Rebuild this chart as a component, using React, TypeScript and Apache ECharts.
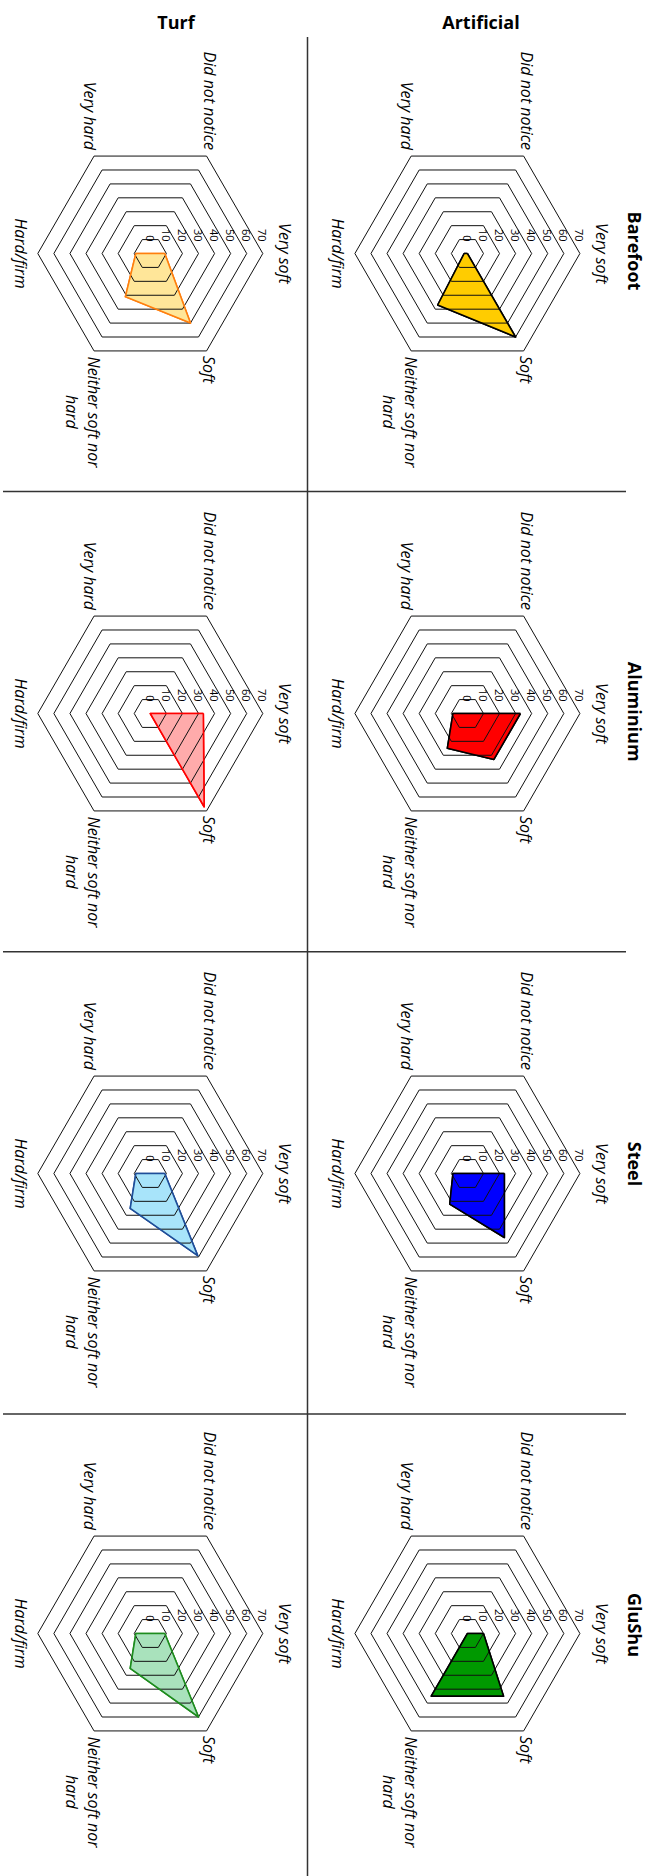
import React, { useEffect, useRef } from "react";
import * as echarts from "echarts";

// Response categories, in the order they run round each hexagon (clockwise from "Very soft")
const axisNames = ["Very soft", "Soft", "Neither soft nor\nhard", "Hard/firm", "Very hard", "Did not notice"];
const scaleMax = 70;
const scaleStep = 10;

const footwear = ["Barefoot", "Aluminium", "Steel", "GluShu"];
const surfaces = ["Artificial", "Turf"];

// Share of responses (%) per category, same order as axisNames
const artificialBarefoot = [0, 60, 37, 2, 0, 0];
const artificialAluminium = [33, 33, 25, 9, 0, 0];
const artificialSteel = [23, 46, 22, 9, 0, 0];
const artificialGluShu = [10, 45, 45, 0, 0, 0];

const turfBarefoot = [9, 50, 31, 9, 0, 0];
const turfAluminium = [33, 67, 0, 0, 0, 0];
const turfSteel = [9, 59, 25, 9, 0, 0];
const turfGluShu = [9, 60, 25, 9, 0, 0];

const artificialFill = ["#FFCC00", "#FF0000", "#0000FF", "#009900"];
const artificialStroke = ["#000000", "#000000", "#000000", "#000000"];
const turfFill = ["#FFE699", "#FFABAB", "#A8E4FA", "#A9E2BC"];
const turfStroke = ["#FF7F0E", "#FF0000", "#1F4E99", "#1E8C1E"];

const FONT = "'Open Sans', sans-serif";

// The figure is laid out landscape (footwear across, surfaces down) and turned a quarter
// turn clockwise onto the portrait page.
const LAND_W = 1876;
const LAND_H = 660;
const colCenters = [253.5, 713.5, 1173.5, 1633.5];
const rowCenters = [192.6, 509.7];
const titleCenters = [251, 711.7, 1164, 1625];
const headerCenters = [176, 481];
const R = 112.5;

// ECharts places indicators counter-clockwise; this reorders the clockwise categories.
const ccwOrder = [0, 5, 4, 3, 2, 1];

type Cell = { cx: number; cy: number; values: number[]; fill: string; stroke: string; name: string };

function buildCells(): Cell[] {
  const rows = [
    [artificialBarefoot, artificialAluminium, artificialSteel, artificialGluShu],
    [turfBarefoot, turfAluminium, turfSteel, turfGluShu],
  ];
  const cells: Cell[] = [];
  rows.forEach((vals, r) => {
    vals.forEach((v, c) => {
      cells.push({
        cx: colCenters[c],
        cy: rowCenters[r],
        values: v,
        fill: r === 0 ? artificialFill[c] : turfFill[c],
        stroke: r === 0 ? artificialStroke[c] : turfStroke[c],
        name: `${surfaces[r]} – ${footwear[c]}`,
      });
    });
  });
  return cells;
}

function nameLabels(cell: Cell): any[] {
  const { cx, cy } = cell;
  const dx = R * Math.cos(Math.PI / 6);
  const base = { fill: "#000", fontFamily: FONT, fontSize: 16, fontStyle: "italic" };
  const t = (text: string, x: number, y: number, align: string, verticalAlign: string, extra: any = {}) => ({
    type: "text",
    x,
    y,
    silent: true,
    style: { ...base, text, align, verticalAlign, ...extra },
  });
  return [
    t(axisNames[0], cx, cy - R - 22, "center", "middle"),
    t(axisNames[1], cx + dx + 5, cy - R / 2 - 2, "left", "middle"),
    t(axisNames[2], cx + dx + 4 + 57, cy + R / 2 - 11, "center", "top", { lineHeight: 22 }),
    t(axisNames[3], cx, cy + R + 17, "center", "middle"),
    t(axisNames[4], cx - dx - 6, cy + R / 2 + 4, "right", "middle"),
    t(axisNames[5], cx - dx - 6, cy - R / 2 - 3, "right", "middle"),
  ];
}

function buildOption() {
  const cells = buildCells();

  const radar = cells.map((c) => ({
    center: [c.cx, c.cy],
    radius: R,
    startAngle: 90,
    shape: "polygon",
    splitNumber: scaleMax / scaleStep,
    z: 3,
    indicator: ccwOrder.map((k, j) => ({
      name: axisNames[k],
      min: 0,
      max: scaleMax,
      axisLabel: { show: j === 0 },
    })),
    axisName: { show: false },
    axisLine: { show: false },
    axisTick: { show: false },
    splitArea: { show: false },
    splitLine: { show: true, lineStyle: { color: "#111", width: 1 } },
    axisLabel: { show: false, margin: 12, fontSize: 11, color: "#000", fontFamily: FONT },
  }));

  // Filled areas sit under the rings; the outlines are drawn again above them.
  const areaSeries = cells.map((c, i) => ({
    type: "radar",
    name: c.name,
    radarIndex: i,
    z: 2,
    silent: true,
    symbol: "none",
    lineStyle: { color: c.stroke, width: 1.5 },
    areaStyle: { color: c.fill, opacity: 1 },
    data: [{ value: ccwOrder.map((k) => c.values[k]), name: c.name }],
  }));
  const outlineSeries = cells.map((c, i) => ({
    type: "radar",
    name: c.name + " outline",
    radarIndex: i,
    z: 4,
    silent: true,
    symbol: "none",
    lineStyle: { color: c.stroke, width: 1.6 },
    data: [{ value: ccwOrder.map((k) => c.values[k]), name: c.name }],
  }));

  const graphics: any[] = [];
  cells.forEach((c) => graphics.push(...nameLabels(c)));

  footwear.forEach((f, i) => {
    graphics.push({
      type: "text",
      x: titleCenters[i],
      y: 25,
      silent: true,
      style: { text: f, fontFamily: FONT, fontSize: 18, fontWeight: "bold", fill: "#000", align: "center", verticalAlign: "middle" },
    });
  });

  surfaces.forEach((s, i) => {
    graphics.push({
      type: "text",
      x: 22,
      y: LAND_H - headerCenters[1 - i],
      rotation: Math.PI / 2,
      silent: true,
      style: { text: s, fontFamily: FONT, fontSize: 18, fontWeight: "bold", fill: "#000", align: "center", verticalAlign: "middle" },
    });
  });

  const divider = { stroke: "#333", lineWidth: 1.5 };
  graphics.push({ type: "line", silent: true, shape: { x1: 37, y1: 352.5, x2: LAND_W, y2: 352.5 }, style: divider });
  [491.5, 951.7, 1414].forEach((x) => {
    graphics.push({ type: "line", silent: true, shape: { x1: x, y1: 34, x2: x, y2: 657 }, style: divider });
  });

  return {
    animation: false,
    backgroundColor: "#ffffff",
    radar,
    series: [...areaSeries, ...outlineSeries],
    graphic: graphics,
  };
}

export default function App() {
  const ref = useRef<HTMLDivElement>(null);

  useEffect(() => {
    if (!ref.current) return;
    const chart = echarts.init(ref.current, null, { renderer: "svg" });
    chart.setOption(buildOption() as any);
    return () => chart.dispose();
  }, []);

  return (
    <div style={{ position: "absolute", left: 0, top: 0, width: LAND_H, height: LAND_W, overflow: "hidden", background: "#fff" }}>
      <div
        ref={ref}
        style={{
          position: "absolute",
          left: 0,
          top: 0,
          width: LAND_W,
          height: LAND_H,
          transformOrigin: "0 0",
          transform: `translate(${LAND_H}px, 0px) rotate(90deg)`,
        }}
      />
    </div>
  );
}
